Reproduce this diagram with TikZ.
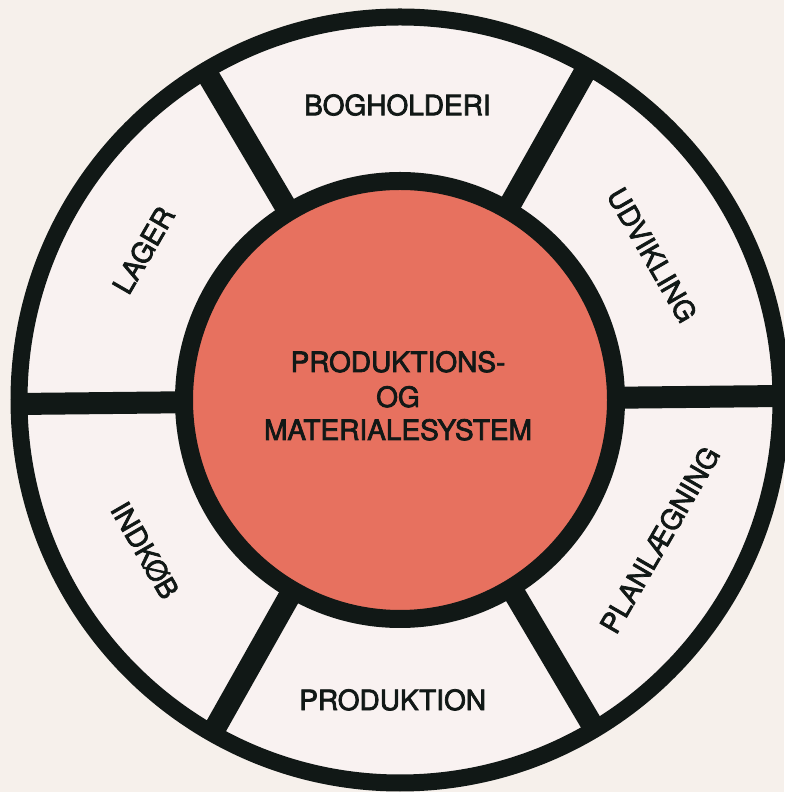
\documentclass[tikz,border=0pt]{standalone}
\usepackage{fontspec}
\setmainfont[FakeBold=2.6]{TeX Gyre Heros}
\usetikzlibrary{calc}
\definecolor{paper}{HTML}{F6F0EB}
\definecolor{sector}{HTML}{F9F2F1}
\definecolor{ink}{HTML}{111816}
\definecolor{salmon}{HTML}{E7715F}
\tikzset{
  ring/.style={draw=ink, line width=17pt},
  spoke/.style={draw=ink, line width=22pt, line cap=butt},
  core/.style={draw=ink, fill=salmon, line width=18pt},
  lbl/.style={inner sep=0pt, text=ink, font=\fontsize{28}{30}\selectfont},
  clbl/.style={inner sep=0pt, anchor=base, text=ink, font=\fontsize{28}{30}\selectfont},
}
\begin{document}
\begin{tikzpicture}[x=1pt,y=1pt]
\useasboundingbox (0,0) rectangle (784,792);
\fill[paper] (0,0) rectangle (784,792);
\coordinate (c) at (400,392);
% outer ring
\fill[sector] (c) ellipse [x radius=381, y radius=383];
\draw[ring] (c) ellipse [x radius=381, y radius=383];
% spokes
\foreach \a in {0,60,120,180,240,300}{
  \draw[spoke] ($(c)+(\a+0.6:200)$) -- ($(c)+(\a+0.6:382)$);
}
% inner circle
\draw[core] (c) ellipse [x radius=216, y radius=219];
% sector labels
\node[lbl] (bog) at ($(c)+(90.5:295)$) {BOGHOLDERI};
\node[lbl, rotate=-60] (udv) at ($(c)+(29.9:291)$) {UDVIKLING};
\node[lbl, rotate=60] (plan) at ($(c)+(-28.3:295)$) {PLANLÆGNING};
\node[lbl] (prod) at ($(c)+(268.6:300)$) {PRODUKTION};
\node[lbl, rotate=-60] (ind) at ($(c)+(210.5:296)$) {INDKØB};
\node[lbl, rotate=60] (lag) at ($(c)+(149.7:297)$) {LAGER};
% centre text
\node[clbl] (t1) at (398,420) {PRODUKTIONS-};
\node[clbl] (t2) at (398,385) {OG};
\node[clbl] (t3) at (398,352) {MATERIALESYSTEM};
\end{tikzpicture}
\end{document}
